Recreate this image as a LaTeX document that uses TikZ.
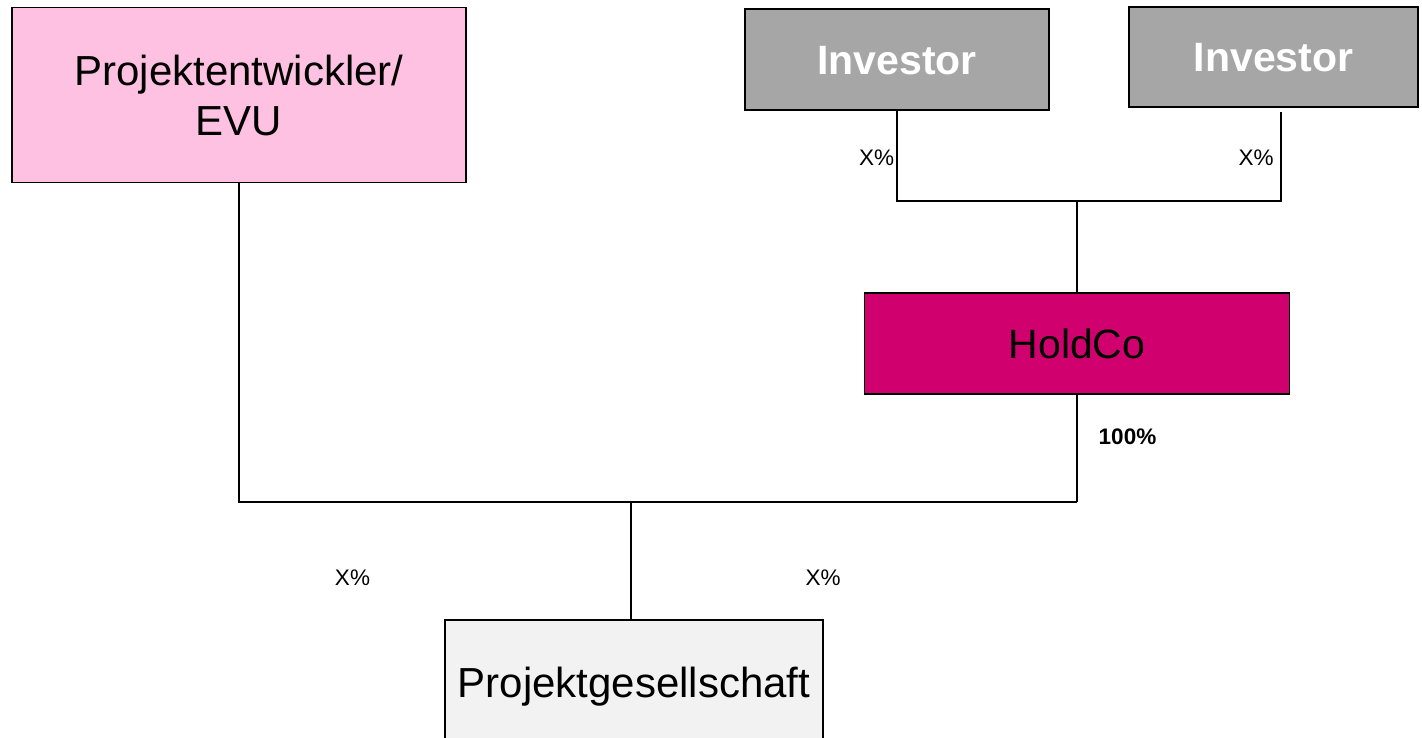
\documentclass[tikz,border=0pt]{standalone}
\usepackage{fontspec}
\setmainfont{Liberation Sans}

\definecolor{devpink}{RGB}{255,193,225}
\definecolor{invgray}{RGB}{166,166,166}
\definecolor{holdmag}{RGB}{208,0,111}
\definecolor{pgray}{RGB}{242,242,242}

\begin{document}
\begin{tikzpicture}[x=1pt,y=-1pt,
  box/.style={rectangle, draw=black, line width=1.8pt, inner sep=0pt, outer sep=0pt,
    font=\fontsize{42}{50}\selectfont},
  invbox/.style={box, fill=invgray, text=white, text height=29.4pt, text depth=0pt,
    font=\bfseries\fontsize{41}{49}\selectfont},
  link/.style={draw=black, line width=1.8pt},
  pct/.style={font=\fontsize{22.5}{27}\selectfont, inner sep=0pt, anchor=base}]

\useasboundingbox (0,0) rectangle (1422,737);
\clip (0,0) rectangle (1422,737);

% connector junctions
\coordinate (jtop) at (1077,201);
\coordinate (jbot) at (1077,502);
\coordinate (jmid) at (631,502);
\coordinate (i2drop) at (1281,112);

% entities
\node[box, fill=devpink, minimum width=454pt, minimum height=175pt, align=center]
  (dev) at (239,95) {Projektentwickler/\\EVU};
\node[invbox, minimum width=304pt, minimum height=101pt] (inv1) at (897,59.5) {Investor};
\node[invbox, minimum width=289pt, minimum height=100pt] (inv2) at (1273.5,57) {Investor};
\node[box, fill=holdmag, minimum width=425pt, minimum height=101pt,
  text height=29.4pt, text depth=0pt, font=\fontsize{41}{49}\selectfont]
  (hold) at (1077,343.5) {HoldCo};
\node[box, fill=pgray, minimum width=378pt, minimum height=124pt,
  text height=30pt, text depth=0pt] (pg) at (634,682) {Projektgesellschaft};

% ownership lines
\draw[link] (inv1.south) |- (jtop);
\draw[link] (i2drop) |- (jtop);
\draw[link] (jtop) -- (hold.north);
\draw[link] (hold.south) -- (jbot);
\draw[link] (dev.south) |- (jbot);
\draw[link] (jmid) -- (jmid |- pg.north);

% shares
\node[pct] (s1) at (876.5,165) {X\%};
\node[pct] (s2) at (1256,165) {X\%};
\node[pct, font=\bfseries\fontsize{22.5}{27}\selectfont] (s3) at (1127.5,444) {100\%};
\node[pct] (s4) at (352.5,585) {X\%};
\node[pct] (s5) at (823,585) {X\%};
\end{tikzpicture}
\end{document}
